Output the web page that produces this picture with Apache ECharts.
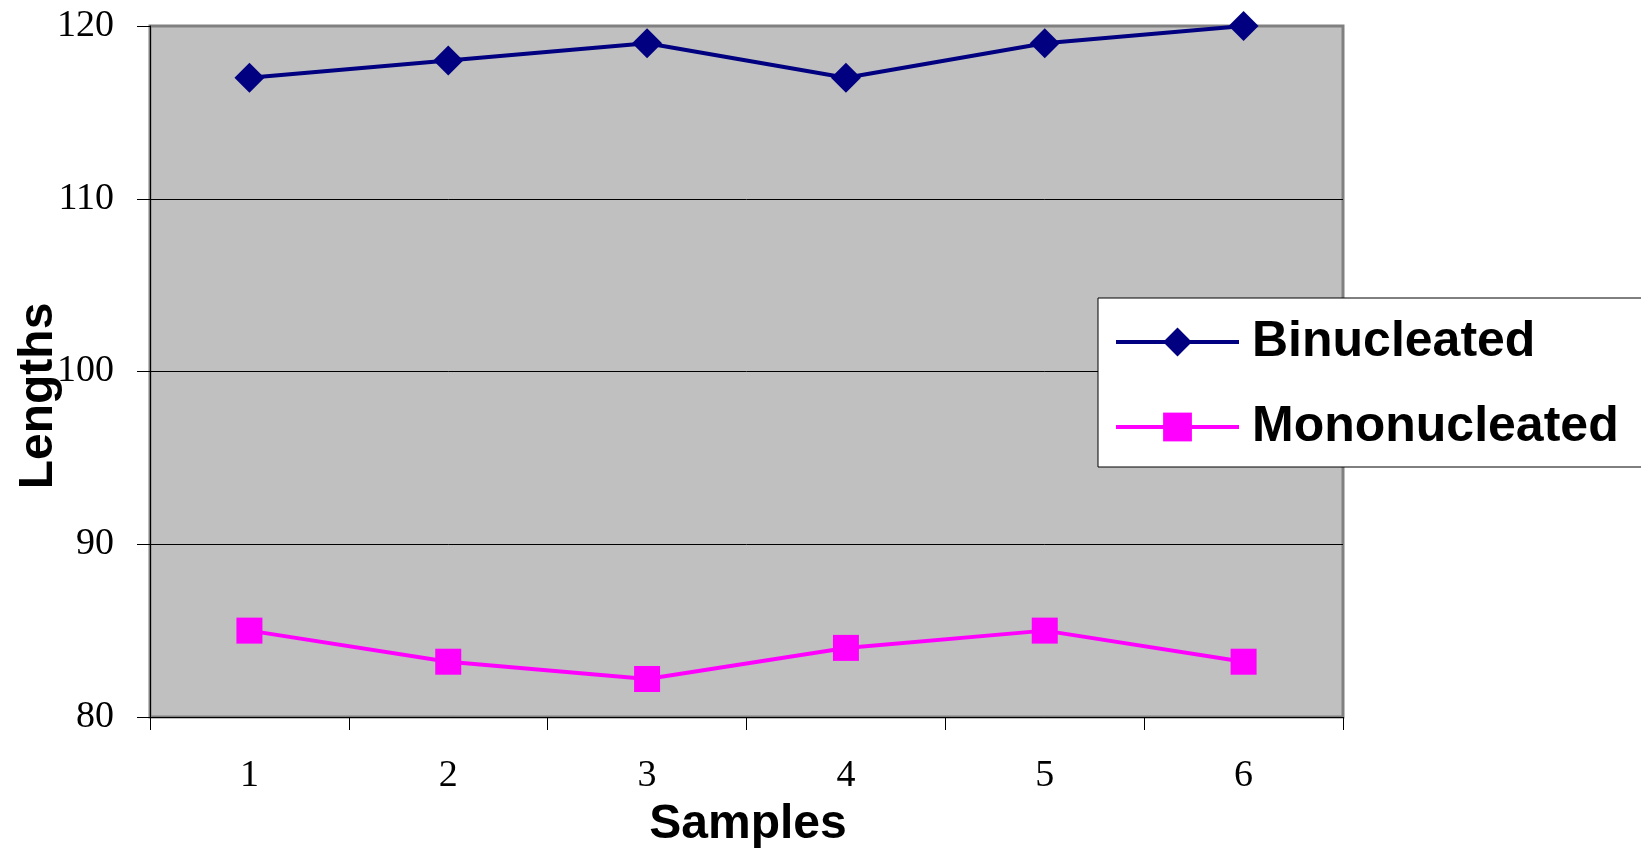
<!DOCTYPE html>
<html>
<head>
<meta charset="utf-8">
<title>Lengths by sample</title>
<script src="https://cdn.jsdelivr.net/npm/echarts@6/dist/echarts.min.js"></script>
<style>
  html, body { margin: 0; padding: 0; background: #fff; }
  #chart { width: 1641px; height: 853px; }
</style>
</head>
<body>
<div id="chart"></div>
<script>
// Sample numbers on the horizontal axis
const samples = ['1', '2', '3', '4', '5', '6'];
// Measured lengths for each cell type
const binucleated = [117, 118, 119, 117, 119, 120];
const mononucleated = [85, 83.2, 82.2, 84, 85, 83.2];
// Vertical scale
const yMin = 80;
const yMax = 120;
const yStep = 10;

const serif = '"Liberation Serif", "Times New Roman", serif';
const sans = '"Liberation Sans", Arial, sans-serif';
const titleFont = { fontFamily: sans, fontWeight: 'bold', fontSize: 48, fill: '#000000' };

const chart = echarts.init(document.getElementById('chart'), null, { renderer: 'canvas' });

chart.setOption({
  animation: false,
  backgroundColor: '#ffffff',
  grid: {
    left: 150,
    right: 298,
    top: 26,
    bottom: 136,
    containLabel: false,
    outerBoundsMode: 'none',
    show: true,
    backgroundColor: '#c0c0c0',
    borderColor: '#808080',
    borderWidth: 3
  },
  // Axis titles
  graphic: [
    {
      type: 'text',
      x: 748,
      y: 825,
      style: Object.assign({ text: 'Samples', align: 'center', verticalAlign: 'middle' }, titleFont),
      z: 10
    },
    {
      type: 'text',
      x: 39,
      y: 396,
      rotation: Math.PI / 2,
      style: Object.assign({ text: 'Lengths', align: 'center', verticalAlign: 'middle' }, titleFont),
      z: 10
    }
  ],
  legend: {
    orient: 'vertical',
    left: 1098,
    top: 298,
    padding: [17, 24, 13, 16],
    backgroundColor: '#ffffff',
    borderColor: '#000000',
    borderWidth: 1,
    borderRadius: 0,
    itemWidth: 123,
    itemHeight: 36,
    itemGap: 31,
    lineStyle: { width: 4 },
    textStyle: {
      fontFamily: sans,
      fontWeight: 'bold',
      fontSize: 50,
      lineHeight: 54,
      color: '#000000',
      padding: [0, 0, 0, 8]
    },
    data: ['Binucleated', 'Mononucleated']
  },
  xAxis: {
    type: 'category',
    data: samples,
    boundaryGap: true,
    axisLine: { show: true, lineStyle: { color: '#000000', width: 1 } },
    axisTick: { show: true, inside: false, length: 13, alignWithLabel: false, lineStyle: { color: '#000000', width: 1 } },
    axisLabel: {
      margin: 40,
      fontFamily: serif,
      fontSize: 38,
      color: '#000000'
    },
    splitLine: { show: false }
  },
  yAxis: {
    type: 'value',
    min: yMin,
    max: yMax,
    interval: yStep,
    axisLine: { show: true, lineStyle: { color: '#000000', width: 1 } },
    axisTick: { show: true, inside: false, length: 13, lineStyle: { color: '#000000', width: 1 } },
    axisLabel: {
      margin: 36,
      fontFamily: serif,
      fontSize: 38,
      color: '#000000'
    },
    splitLine: {
      show: true,
      showMinLine: false,
      showMaxLine: false,
      lineStyle: { color: '#000000', width: 1 }
    }
  },
  series: [
    {
      name: 'Binucleated',
      type: 'line',
      data: binucleated,
      symbol: 'diamond',
      symbolSize: 30,
      showAllSymbol: true,
      lineStyle: { color: '#000080', width: 4 },
      itemStyle: { color: '#000080', borderWidth: 0 },
      z: 3
    },
    {
      name: 'Mononucleated',
      type: 'line',
      data: mononucleated,
      symbol: 'rect',
      symbolSize: 26,
      showAllSymbol: true,
      lineStyle: { color: '#ff00ff', width: 4 },
      itemStyle: { color: '#ff00ff', borderWidth: 0 },
      z: 3
    }
  ]
});
</script>
</body>
</html>
